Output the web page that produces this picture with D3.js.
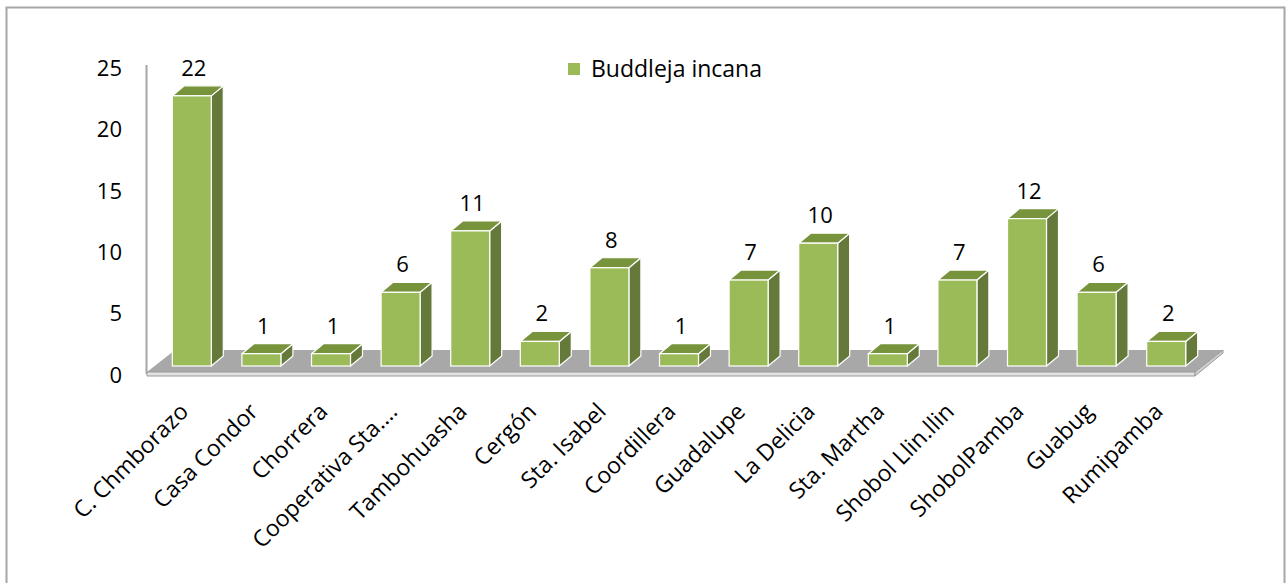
<!DOCTYPE html>
<html>
<head>
<meta charset="utf-8">
<script src="https://cdn.jsdelivr.net/npm/d3@7"></script>
<style>
  body { margin: 0; background: #fff; }
  svg { display: block; font-family: "Open Sans", "DejaVu Sans", sans-serif; }
</style>
</head>
<body>
<div id="chart-area"></div>
<script>
const categories = ["C. Chmborazo", "Casa Condor", "Chorrera", "Cooperativa Sta.…", "Tambohuasha",
    "Cergón", "Sta. Isabel", "Coordillera", "Guadalupe", "La Delicia", "Sta. Martha",
    "Shobol Llin.llin", "ShobolPamba", "Guabug", "Rumipamba"];
const values = [22, 1, 1, 6, 11, 2, 8, 1, 7, 10, 1, 7, 12, 6, 2];
const yTicks = [0, 5, 10, 15, 20, 25];
const seriesName = "Buddleja incana";

const WIDTH = 1288,
    HEIGHT = 583,
    DX = 12, DY = 10,            // bar depth offset
    FDX = 28, FDY = 22,          // floor depth offset
    COLOR_FRONT = "#9bbb59",
    COLOR_TOP = "#77933c",
    COLOR_SIDE = "#64793a",
    FONT_SIZE = 22,
    LABEL_SIZE = 23;

const svg = d3.select("#chart-area")
    .append("svg")
    .attr("width", WIDTH)
    .attr("height", HEIGHT);

// outer frame
svg.append("rect")
    .attr("x", 6.5).attr("y", 7.5)
    .attr("width", 1278).attr("height", 590)
    .attr("fill", "none").attr("stroke", "#a6a6a6").attr("stroke-width", 2);

const x = d3.scaleBand()
    .domain(categories)
    .range([157, 1201])
    .paddingInner(0.44)
    .paddingOuter(0.22);

const y = d3.scaleLinear().domain([0, 25]).range([366, 59]);

// axis line
svg.append("line")
    .attr("x1", 146.5).attr("x2", 146.5)
    .attr("y1", 65).attr("y2", 374)
    .attr("stroke", "#a6a6a6").attr("stroke-width", 2);

// floor
const fl = 147, fr = 1195, fy = 372;
const floor = svg.append("g");
floor.append("polygon")
    .attr("points", [[fl, fy], [fr, fy], [fr + FDX, fy - FDY], [fl + FDX, fy - FDY]].join(" "))
    .attr("fill", "#a8a8a8");
floor.append("polygon")
    .attr("points", [[fl, fy], [fr, fy], [fr, fy + 4], [fl, fy + 4]].join(" "))
    .attr("fill", "#e2e2e2").attr("stroke", "#9a9a9a").attr("stroke-width", 1);
floor.append("polygon")
    .attr("points", [[fr, fy], [fr + FDX, fy - FDY], [fr + FDX, fy - FDY + 3], [fr, fy + 4]].join(" "))
    .attr("fill", "#d0d0d0").attr("stroke", "#9a9a9a").attr("stroke-width", 1);

// y tick labels
svg.append("g")
    .selectAll("text")
    .data(yTicks)
    .join("text")
    .attr("x", 122)
    .attr("y", d => y(d) + 9)
    .attr("dy", "0.35em")
    .attr("text-anchor", "end")
    .attr("font-size", FONT_SIZE)
    .attr("fill", "#000")
    .text(d => d);

// bars
const bars = svg.append("g")
    .selectAll("g")
    .data(categories.map((c, i) => ({ name: c, value: values[i] })))
    .join("g");

const bw = x.bandwidth();

bars.append("polygon")   // side
    .attr("points", d => {
        const x1 = x(d.name) + bw, yt = y(d.value), yb = y(0);
        return [[x1, yt], [x1 + DX, yt - DY], [x1 + DX, yb - DY], [x1, yb]].join(" ");
    })
    .attr("fill", COLOR_SIDE).attr("stroke", "#fff").attr("stroke-width", 1.2).attr("stroke-linejoin", "round");

bars.append("polygon")   // top
    .attr("points", d => {
        const x0 = x(d.name), yt = y(d.value);
        return [[x0, yt], [x0 + DX, yt - DY], [x0 + bw + DX, yt - DY], [x0 + bw, yt]].join(" ");
    })
    .attr("fill", COLOR_TOP).attr("stroke", "#fff").attr("stroke-width", 1.2).attr("stroke-linejoin", "round");

bars.append("rect")      // front
    .attr("x", d => x(d.name))
    .attr("y", d => y(d.value))
    .attr("width", bw)
    .attr("height", d => y(0) - y(d.value))
    .attr("fill", COLOR_FRONT).attr("stroke", "#fff").attr("stroke-width", 1.2);

// value labels
bars.append("text")
    .attr("x", d => x(d.name) + bw / 2 + 2)
    .attr("y", d => y(d.value) - 20)
    .attr("text-anchor", "middle")
    .attr("font-size", FONT_SIZE)
    .text(d => d.value);

// category labels
svg.append("g")
    .selectAll("text")
    .data(categories)
    .join("text")
    .attr("text-anchor", "end")
    .attr("font-size", LABEL_SIZE)
    .attr("transform", d => `translate(${x(d) + bw / 2 - 2},${413}) rotate(-45)`)
    .text(d => d);

// legend
const legend = svg.append("g").attr("transform", "translate(568,63)");
legend.append("rect").attr("width", 12).attr("height", 12).attr("fill", COLOR_FRONT);
legend.append("text")
    .attr("x", 23).attr("y", 6).attr("dy", "0.35em")
    .attr("font-size", LABEL_SIZE)
    .text(seriesName);
</script>
</body>
</html>
